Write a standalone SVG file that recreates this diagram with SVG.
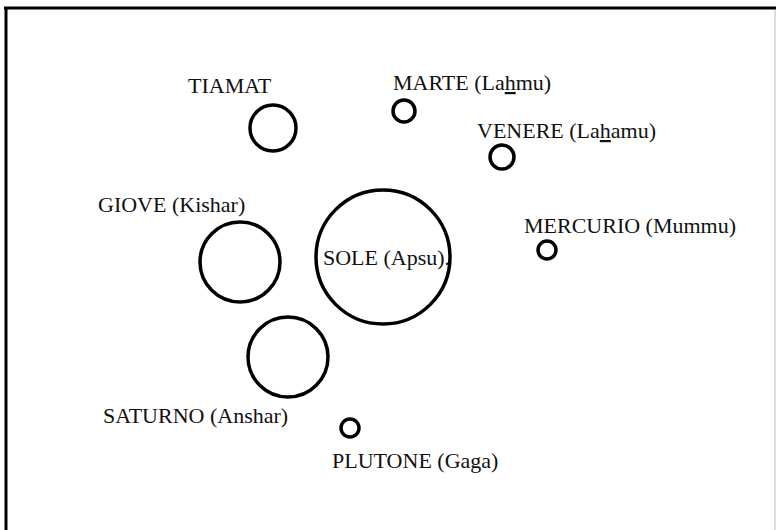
<svg xmlns="http://www.w3.org/2000/svg" width="776" height="530" viewBox="0 0 776 530">
<style>
.body{fill:none;stroke:#000;stroke-width:3.5}
.lbl{font-family:"Liberation Serif","DejaVu Serif",serif;font-size:22px;fill:#111}
.u{text-decoration:underline}
</style>
<rect x="0" y="0" width="776" height="530" fill="#fff"/>
<g id="frame">
<line x1="4" y1="8" x2="776" y2="8" stroke="#000" stroke-width="3"/>
<line x1="6" y1="7" x2="6" y2="530" stroke="#000" stroke-width="3"/>
<line x1="775" y1="10" x2="775" y2="530" stroke="#bbb" stroke-width="1"/>
</g>
<g id="connectors"></g>
<g id="tiamat">
<circle class="body" cx="273" cy="128" r="23"/>
<text class="lbl" x="188" y="93">TIAMAT</text>
</g>
<g id="marte">
<circle class="body" cx="404" cy="111" r="11"/>
<text class="lbl" x="393" y="90">MARTE (La<tspan class="u">h</tspan>mu)</text>
</g>
<g id="venere">
<circle class="body" cx="502" cy="157" r="12"/>
<text class="lbl" x="477" y="138">VENERE (La<tspan class="u">h</tspan>amu)</text>
</g>
<g id="giove">
<circle class="body" cx="240" cy="262" r="40"/>
<text class="lbl" x="98" y="212">GIOVE (Kishar)</text>
</g>
<g id="sole">
<circle class="body" cx="383" cy="257" r="67" stroke-width="3"/>
<text class="lbl" x="323" y="265">SOLE (Apsu).</text>
</g>
<g id="mercurio">
<circle class="body" cx="547" cy="250" r="9"/>
<text class="lbl" x="524" y="233">MERCURIO (Mummu)</text>
</g>
<g id="saturno">
<circle class="body" cx="288" cy="357" r="40"/>
<text class="lbl" x="103" y="423">SATURNO (Anshar)</text>
</g>
<g id="plutone">
<circle class="body" cx="350" cy="428" r="9"/>
<text class="lbl" x="332" y="468">PLUTONE (Gaga)</text>
</g>
</svg>
